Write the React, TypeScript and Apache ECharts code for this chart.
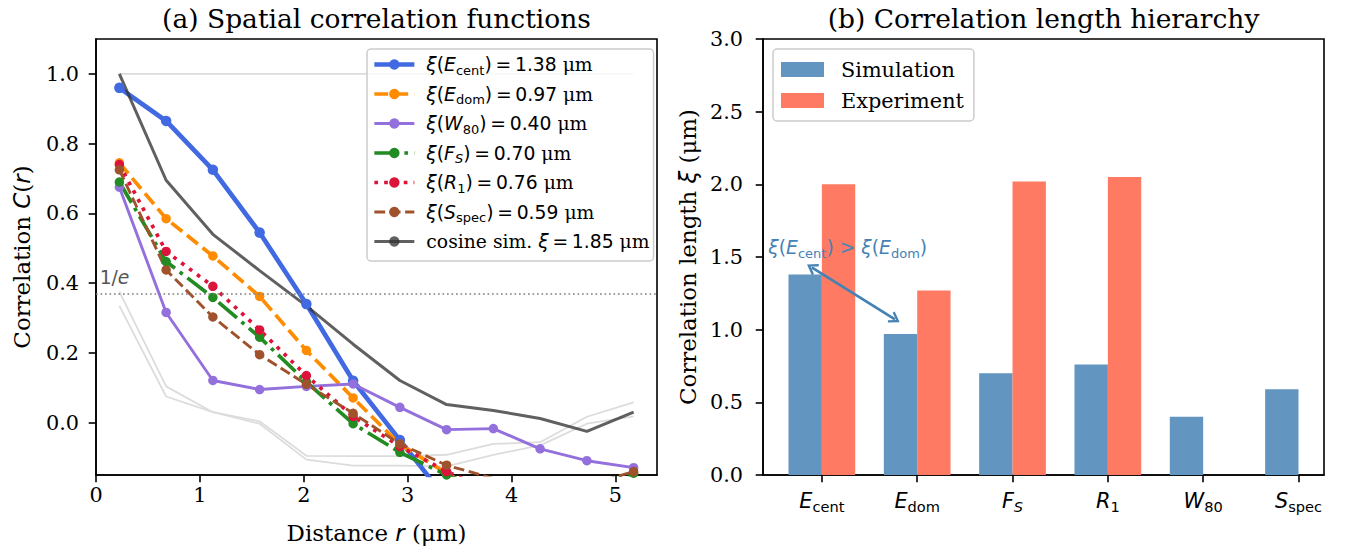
import React, { useEffect, useRef } from 'react';
import * as echarts from 'echarts';

// ---------- Data: panel (a) ----------
const distances = [0.225, 0.675, 1.125, 1.575, 2.025, 2.475, 2.925, 3.375, 3.825, 4.275, 4.725, 5.175];
const corrEcent = [0.96, 0.865, 0.725, 0.545, 0.34, 0.12, -0.05, -0.22, -0.3, -0.32, -0.3, -0.28];
const corrEdom = [0.745, 0.585, 0.478, 0.362, 0.207, 0.071, -0.062, -0.145, -0.22, -0.25, -0.23, -0.2];
const corrW80 = [0.675, 0.316, 0.121, 0.095, 0.104, 0.111, 0.044, -0.02, -0.017, -0.075, -0.109, -0.129];
const corrFS = [0.69, 0.462, 0.359, 0.245, 0.117, -0.003, -0.085, -0.15, -0.2, -0.22, -0.19, -0.145];
const corrR1 = [0.74, 0.491, 0.391, 0.266, 0.135, 0.018, -0.068, -0.14, -0.2, -0.23, -0.22, -0.2];
const corrSspec = [0.725, 0.438, 0.303, 0.195, 0.11, 0.027, -0.061, -0.122, -0.16, -0.19, -0.18, -0.14];
const corrCosine = [1.0, 0.695, 0.54, 0.436, 0.335, 0.225, 0.121, 0.052, 0.035, 0.012, -0.025, 0.03];
const backgroundA = [0.376, 0.104, 0.03, 0.004, -0.095, -0.096, -0.096, -0.092, -0.061, -0.056, 0.017, 0.058];
const backgroundB = [0.335, 0.075, 0.03, -0.003, -0.106, -0.123, -0.123, -0.125, -0.092, -0.065, -0.003, 0.018];
const backgroundC = [1.0, 1.0, 1.0, 1.0, 1.0, 1.0, 1.0, 1.0, 1.0, 1.0, 1.0, 1.0];
const invE = 0.3679;
const xTicksA = [0, 1, 2, 3, 4, 5];
const yTicksA = [0.0, 0.2, 0.4, 0.6, 0.8, 1.0];

// ---------- Data: panel (b) ----------
const categories = ['Ecent', 'Edom', 'FS', 'R1', 'W80', 'Sspec'];
const categoryLabels = ['{i|E}{s|cent}', '{i|E}{s|dom}', '{i|F}{si|S}', '{i|R}{s|1}', '{i|W}{s|80}', '{i|S}{s|spec}'];
const categoryTicks = [0, 1, 2, 3, 4, 5];
const simulation = [1.38, 0.97, 0.70, 0.76, 0.40, 0.59];
const experiment: (number | null)[] = [2.00, 1.27, 2.02, 2.05, null, null];
const arrowFrom = [-0.107, 1.429];
const arrowTo = [0.767, 1.071];
const annotationAt = [-0.562, 1.565];

// ---------- Styles ----------
const SERIF = 'DejaVu Serif';
const SANS = 'DejaVu Sans';
const SIM_COLOR = '#6295bf';
const EXP_COLOR = '#ff7a62';
const BAR_W = 0.35;
const T = '\u2009';

const legendLabels: Record<string, string> = {
  Ecent: `{i|ξ}{m|(}{i|E}{s|cent}{m|)${T}=${T}1.38 }{u|μm}`,
  Edom: `{i|ξ}{m|(}{i|E}{s|dom}{m|)${T}=${T}0.97 }{u|μm}`,
  W80: `{i|ξ}{m|(}{i|W}{s|80}{m|)${T}=${T}0.40 }{u|μm}`,
  FS: `{i|ξ}{m|(}{i|F}{si|S}{m|)${T}=${T}0.70 }{u|μm}`,
  R1: `{i|ξ}{m|(}{i|R}{s|1}{m|)${T}=${T}0.76 }{u|μm}`,
  Sspec: `{i|ξ}{m|(}{i|S}{s|spec}{m|)${T}=${T}0.59 }{u|μm}`,
  cos: `{u|cosine sim. }{i|ξ}{m|${T}=${T}1.85 }{u|μm}`,
};

const pair = (ys: number[]) => ys.map((y, i) => [distances[i], y]);

const lineSeries = (name: string, ys: number[], color: string, width: number, type: any, symbolSize: number, extra: any = {}) => ({
  name,
  type: 'line',
  xAxisIndex: 0,
  yAxisIndex: 0,
  data: pair(ys),
  symbol: symbolSize > 0 ? 'circle' : 'none',
  symbolSize,
  showSymbol: symbolSize > 0,
  clip: true,
  itemStyle: { color },
  lineStyle: { color, width, type, cap: 'butt' },
  emphasis: { disabled: true },
  ...extra,
});

const barRender = (offset: number) => (params: any, api: any) => {
  const idx = api.value(0);
  const v = api.value(1);
  const a = api.coord([idx + offset, v]);
  const b = api.coord([idx + offset + BAR_W, 0]);
  return {
    type: 'rect',
    shape: { x: a[0], y: a[1], width: b[0] - a[0], height: b[1] - a[1] },
    style: { fill: api.visual('color') },
  };
};

export default function App() {
  const ref = useRef<HTMLDivElement>(null);
  useEffect(() => {
    if (!ref.current) return;
    const chart = echarts.init(ref.current, undefined, { renderer: 'svg' });
    const axisLineStyle = { color: '#000', width: 1.6 };
    const tickLabelStyle = { fontFamily: SERIF, fontSize: 20.8, color: '#000' };
    const legendRich = {
      m: { fontFamily: SANS, fontSize: 18.75, color: '#000' },
      i: { fontFamily: SANS, fontStyle: 'italic', fontSize: 18.75, color: '#000' },
      s: { fontFamily: SANS, fontSize: 13, color: '#000', padding: [11, 0, 0, 0] },
      si: { fontFamily: SANS, fontStyle: 'italic', fontSize: 13, color: '#000', padding: [11, 0, 0, 0] },
      u: { fontFamily: SERIF, fontSize: 18.75, color: '#000' },
    };
    const nameStyle = {
      fontFamily: SERIF, fontSize: 22.9, color: '#000',
      rich: {
        m: { fontFamily: SERIF, fontSize: 22.9, color: '#000' },
        i: { fontFamily: SANS, fontStyle: 'italic', fontSize: 22.9, color: '#000' },
      },
    };
    const option: any = {
      animation: false,
      backgroundColor: '#fff',
      graphic: [
        {
          type: 'text', x: 376.5, y: 18,
          style: { text: '(a) Spatial correlation functions', font: `26.5px "${SERIF}"`, fill: '#000', textAlign: 'center', textVerticalAlign: 'middle' },
        },
        {
          type: 'text', x: 1043.5, y: 18,
          style: { text: '(b) Correlation length hierarchy', font: `26.5px "${SERIF}"`, fill: '#000', textAlign: 'center', textVerticalAlign: 'middle' },
        },
      ],
      grid: [
        { left: 96, top: 39, width: 561, height: 436, show: true, borderColor: '#000', borderWidth: 1.6, backgroundColor: 'transparent' },
        { left: 763, top: 39, width: 561, height: 436, show: true, borderColor: '#000', borderWidth: 1.6, backgroundColor: 'transparent' },
      ],
      xAxis: [
        {
          type: 'value', gridIndex: 0, min: 0, max: 5.4,
          axisLine: { show: true, onZero: false, lineStyle: axisLineStyle },
          axisTick: { show: true, length: 7.3, lineStyle: axisLineStyle, customValues: xTicksA },
          axisLabel: { ...tickLabelStyle, margin: 9, customValues: xTicksA, formatter: (v: number) => String(v) },
          splitLine: { show: false },
          name: '{m|Distance }{i|r}{m| (μm)}',
          nameLocation: 'middle', nameGap: 46,
          nameTextStyle: nameStyle,
        },
        {
          type: 'value', gridIndex: 1, min: -0.6175, max: 5.2675,
          axisLine: { show: true, onZero: false, lineStyle: axisLineStyle },
          axisTick: { show: true, length: 7.3, lineStyle: axisLineStyle, customValues: categoryTicks },
          axisLabel: {
            margin: 12, customValues: categoryTicks,
            formatter: (v: number) => categoryLabels[Math.round(v)] ?? '',
            rich: {
              i: { fontFamily: SANS, fontStyle: 'italic', fontSize: 20.8, color: '#000' },
              s: { fontFamily: SANS, fontSize: 14.6, color: '#000', padding: [12, 0, 0, 0] },
              si: { fontFamily: SANS, fontStyle: 'italic', fontSize: 14.6, color: '#000', padding: [12, 0, 0, 0] },
            },
          },
          splitLine: { show: false },
        },
      ],
      yAxis: [
        {
          type: 'value', gridIndex: 0, min: -0.15, max: 1.1,
          axisLine: { show: true, onZero: false, lineStyle: axisLineStyle },
          axisTick: { show: true, length: 7.3, lineStyle: axisLineStyle, customValues: yTicksA },
          axisLabel: { ...tickLabelStyle, margin: 17, customValues: yTicksA, formatter: (v: number) => v.toFixed(1) },
          splitLine: { show: false },
          name: '{m|Correlation }{i|C}{m|(}{i|r}{m|)}',
          nameLocation: 'middle', nameGap: 63,
          nameTextStyle: nameStyle,
        },
        {
          type: 'value', gridIndex: 1, min: 0, max: 3, interval: 0.5,
          axisLine: { show: true, onZero: false, lineStyle: axisLineStyle },
          axisTick: { show: true, length: 7.3, lineStyle: axisLineStyle },
          axisLabel: { ...tickLabelStyle, margin: 20, formatter: (v: number) => v.toFixed(1) },
          splitLine: { show: false },
          name: '{m|Correlation length }{i|ξ}{m| (μm)}',
          nameLocation: 'middle', nameGap: 64,
          nameTextStyle: nameStyle,
        },
      ],
      legend: [
        {
          data: ['Ecent', 'Edom', 'W80', 'FS', 'R1', 'Sspec', 'cos'],
          orient: 'vertical', left: 367, top: 49,
          itemWidth: 40, itemHeight: 13, itemGap: 8,
          padding: [6, 4, 10, 5],
          backgroundColor: 'rgba(255,255,255,0.8)', borderColor: '#cccccc', borderWidth: 1.5, borderRadius: 4,
          selectedMode: false,
          lineStyle: { width: 'inherit' },
          textStyle: { fontFamily: SANS, fontSize: 18.75, color: '#000', padding: [0, 0, 0, 7], rich: legendRich },
          formatter: (name: string) => legendLabels[name] ?? name,
        },
        {
          data: [{ name: 'Simulation', icon: 'rect' }, { name: 'Experiment', icon: 'rect' }],
          orient: 'vertical', left: 773, top: 49,
          itemWidth: 43, itemHeight: 15, itemGap: 10,
          padding: [10, 10, 10, 8],
          backgroundColor: 'rgba(255,255,255,0.8)', borderColor: '#cccccc', borderWidth: 1.5, borderRadius: 4,
          selectedMode: false,
          textStyle: { fontFamily: SERIF, fontSize: 20.8, color: '#000', padding: [0, 0, 0, 12] },
        },
      ],
      series: [
        lineSeries('bg1', backgroundC, '#dcdcdc', 1.8, 'solid', 0, { z: 1, silent: true }),
        lineSeries('bg2', backgroundA, '#dcdcdc', 1.8, 'solid', 0, { z: 1, silent: true }),
        lineSeries('bg3', backgroundB, '#dcdcdc', 1.8, 'solid', 0, {
          z: 1, silent: true,
          markLine: {
            silent: true, symbol: ['none', 'none'],
            label: { show: false },
            lineStyle: { color: '#808080', width: 1.7, type: [1.7, 2.8] },
            data: [{ yAxis: invE }],
          },
          markPoint: {
            silent: true,
            symbol: 'circle', symbolSize: 0,
            data: [{
              coord: [0.035, 0.417],
              label: {
                show: true, position: 'right', distance: 0,
                formatter: '{m|1/}{i|e}',
                rich: {
                  m: { fontFamily: SANS, fontSize: 18.75, color: '#555' },
                  i: { fontFamily: SANS, fontStyle: 'italic', fontSize: 18.75, color: '#555' },
                },
              },
            }],
          },
        }),
        lineSeries('Ecent', corrEcent, '#4169e1', 4.7, 'solid', 10.5, { z: 3 }),
        lineSeries('Edom', corrEdom, '#ff8c00', 3.7, [13.9, 6], 9.5, { z: 3 }),
        lineSeries('W80', corrW80, '#9370db', 2.9, 'solid', 9.5, { z: 3 }),
        lineSeries('FS', corrFS, '#228b22', 3.7, [24, 6, 3.7, 6], 9.5, { z: 3 }),
        lineSeries('R1', corrR1, '#dc143c', 3.7, [3.7, 6.1], 9.5, { z: 3 }),
        lineSeries('Sspec', corrSspec, '#a0522d', 2.9, [10.8, 4.6], 9.5, { z: 3 }),
        lineSeries('cos', corrCosine, 'rgba(51,51,51,0.78)', 3, 'solid', 0, { z: 3 }),
        {
          name: 'Simulation', type: 'custom', xAxisIndex: 1, yAxisIndex: 1,
          itemStyle: { color: SIM_COLOR },
          clip: true,
          encode: { x: 0, y: 1 },
          data: simulation.map((v, i) => [i, v]),
          renderItem: barRender(-BAR_W),
        },
        {
          name: 'Experiment', type: 'custom', xAxisIndex: 1, yAxisIndex: 1,
          itemStyle: { color: EXP_COLOR },
          clip: true,
          encode: { x: 0, y: 1 },
          data: experiment.map((v, i) => [i, v]).filter((d) => d[1] !== null),
          renderItem: barRender(0),
          markLine: {
            silent: true,
            symbol: ['path://M5,0 L10,8.5 L8.4,9.5 L5,3.6 L1.6,9.5 L0,8.5 Z', 'path://M5,0 L10,8.5 L8.4,9.5 L5,3.6 L1.6,9.5 L0,8.5 Z'],
            symbolSize: [13, 11],
            label: { show: false },
            lineStyle: { color: '#4682b4', width: 2.8, type: 'solid' },
            data: [[{ coord: arrowFrom }, { coord: arrowTo }]],
          },
          markPoint: {
            silent: true,
            symbol: 'circle', symbolSize: 0,
            data: [{
              coord: annotationAt,
              label: {
                show: true, position: 'right', distance: 0,
                formatter: '{i|ξ}{m|(}{i|E}{s|cent}{m|) > }{i|ξ}{m|(}{i|E}{s|dom}{m|)}',
                rich: {
                  m: { fontFamily: SANS, fontSize: 18.75, color: '#4682b4' },
                  i: { fontFamily: SANS, fontStyle: 'italic', fontSize: 18.75, color: '#4682b4' },
                  s: { fontFamily: SANS, fontSize: 13, color: '#4682b4', padding: [11, 0, 0, 0] },
                },
              },
            }],
          },
        },
      ],
    };
    chart.setOption(option);
    return () => chart.dispose();
  }, []);
  return <div ref={ref} style={{ position: 'absolute', left: 0, top: 0, width: 1351, height: 553 }} />;
}
